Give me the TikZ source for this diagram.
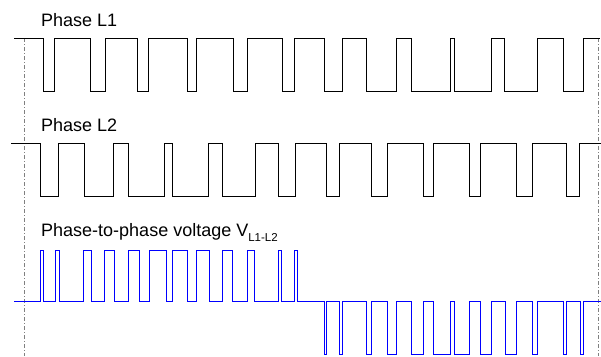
\documentclass[tikz,border=0pt]{standalone}
\usepackage{fontspec}
\setmainfont{Liberation Sans}
\usetikzlibrary{positioning}

\begin{document}
\begin{tikzpicture}[x=1pt,y=-1pt,
  phase/.style={black, line width=0.9pt},
  volt/.style={blue, line width=0.9pt},
  marker/.style={gray, line width=0.8pt, dash pattern=on 4pt off 2pt on 1pt off 2pt},
  label/.style={anchor=base west, inner sep=0pt, font=\fontsize{18}{20}\selectfont}]

\useasboundingbox (0,0) rectangle (601,356);

% markers
\draw[marker] (24,38)--(24,356);
\draw[marker] (598,38)--(598,356);

% Phase L1
\draw[phase] (14,38) -| (43,91) -| (54,38) -| (90,91) -| (105,38) -| (137,91) -| (148,38) -| (187,91) -| (196,38) -| (233,91) -| (247,38) -| (282,91) -| (294,38) -| (324,91) -| (342,38) -| (366,91) -| (396,38) -| (411,91) -| (450,38) -| (454,91) -| (491,38) -| (504,91) -| (537,38) -| (563,91) -| (583,38) -- (600,38);

% Phase L2
\draw[phase] (11,143) -| (40,196) -| (58,143) -| (84,196) -| (113,143) -| (128,196) -| (164,143) -| (172,196) -| (208,143) -| (222,196) -| (255,143) -| (278,196) -| (295,143) -| (326,196) -| (339,143) -| (371,196) -| (387,143) -| (423,196) -| (433,143) -| (469,196) -| (480,143) -| (516,196) -| (532,143) -| (566,196) -| (579,143) -- (601,143);

% V L1-L2
\draw[volt] (14,301) -| (40,250) -| (43,301) -| (55,250) -| (59,301) -| (83,250) -| (91,301) -| (104,250) -| (114,301) -| (128,250) -| (139,301) -| (149,250) -| (166,301) -| (172,250) -| (187,301) -| (196,250) -| (209,301) -| (222,250) -| (232,301) -| (247,250) -| (254,301) -| (278,250) -| (281,301) -| (294,250) -| (297,301)
  -| (324,354.5) -| (326,301) -| (339,354.5) -| (342,301) -| (366,354.5) -| (371,301) -| (387,354.5) -| (396,301) -| (411,354.5) -| (423,301) -| (433,354.5) -| (450,301) -| (454,354.5) -| (469,301) -| (480,354.5) -| (491,301) -| (505,354.5) -| (516,301) -| (532,354.5) -| (537,301) -| (563,354.5) -| (566,301) -| (580,354.5) -| (583,301) -- (601,301);

% nodes
\node[label] (l1) at (41,26) {Phase L1};
\node[label] (l2) at (41,131.5) {Phase L2};
\node[label] (vl) at (41,236.5) {Phase-to-phase voltage V\raisebox{-4.5pt}{\fontsize{11.5}{12}\selectfont L1-L2}};

\end{tikzpicture}
\end{document}
